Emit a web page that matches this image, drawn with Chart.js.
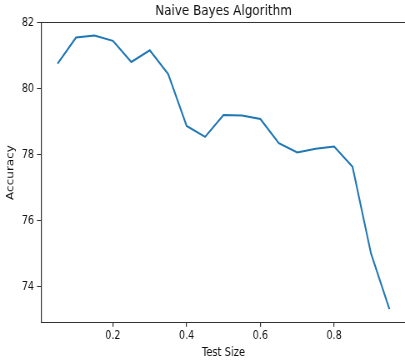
<!DOCTYPE html>
<html>
<head>
<meta charset="utf-8">
<script src="https://cdn.jsdelivr.net/npm/chart.js@4/dist/chart.umd.min.js"></script>
<style>
  html, body { margin: 0; padding: 0; background: #fff; overflow: hidden; width: 405px; height: 363px; }
  #wrap { width: 492px; height: 363px; transform: scaleX(0.8333333); transform-origin: 0 0; }
  canvas { display: block; }
</style>
</head>
<body>
<div id="wrap"><canvas id="c" width="492" height="363"></canvas></div>
<script>
const chartTitle = 'Naive Bayes Algorithm';
const xLabel = 'Test Size';
const yLabel = 'Accuracy';
const testSizes = [0.05, 0.10, 0.15, 0.20, 0.25, 0.30, 0.35, 0.40, 0.45, 0.50,
                   0.55, 0.60, 0.65, 0.70, 0.75, 0.80, 0.85, 0.90, 0.95];
const accuracy = [80.76, 81.55, 81.61, 81.45, 80.81, 81.16, 80.44, 78.87, 78.54, 79.20,
                  79.19, 79.08, 78.35, 78.07, 78.18, 78.25, 77.63, 75.01, 73.32];
const xTicks = [0.2, 0.4, 0.6, 0.8];
const yTicks = [74, 76, 78, 80, 82];
const xRange = [0.005, 0.995];
const yRange = [72.91, 82.01];

// horizontal stretch factor of the original picture (drawn wide, squeezed by CSS)
const K = 1.2;

const points = testSizes.map((x, i) => ({ x: x, y: accuracy[i] }));
const axisColor = '#333';
const textColor = '#111';
const fontFamily = '"DejaVu Sans", sans-serif';

new Chart(document.getElementById('c'), {
  type: 'line',
  data: {
    datasets: [{
      data: points,
      borderColor: '#1f77b4',
      borderWidth: 2,
      pointRadius: 0,
      tension: 0,
      fill: false,
      xAxisID: 'x',
      yAxisID: 'y'
    }]
  },
  options: {
    responsive: false,
    animation: false,
    devicePixelRatio: 1,
    layout: { padding: { left: 0, right: 4.8, top: 0, bottom: 0 } },
    plugins: {
      legend: { display: false },
      tooltip: { enabled: false },
      title: { display: false }
    },
    scales: {
      x: {
        type: 'linear',
        position: 'bottom',
        min: xRange[0],
        max: xRange[1],
        afterBuildTicks(scale) { scale.ticks = xTicks.map(v => ({ value: v })); },
        afterFit(scale) { scale.height = 40.3; },
        grid: { drawOnChartArea: false, tickLength: 4, lineWidth: K, color: axisColor, tickColor: axisColor },
        border: { display: true, color: axisColor, width: 1 },
        ticks: {
          padding: 2,
          color: textColor,
          font: { family: fontFamily, size: 11.5 },
          maxRotation: 0,
          callback: v => v.toFixed(1)
        },
        title: {
          display: true,
          text: xLabel,
          color: textColor,
          font: { family: fontFamily, size: 12 },
          padding: { top: 0, bottom: 2.8 }
        }
      },
      xTop: {
        type: 'linear',
        position: 'top',
        min: xRange[0],
        max: xRange[1],
        afterFit(scale) { scale.height = 22.3; },
        grid: { display: false, drawOnChartArea: false, tickLength: 0 },
        border: { display: true, color: axisColor, width: 1 },
        ticks: { display: false },
        title: {
          display: true,
          text: chartTitle,
          color: textColor,
          font: { family: fontFamily, size: 14.4, lineHeight: 1.2 },
          padding: { top: 2.7, bottom: 0 }
        }
      },
      y: {
        type: 'linear',
        min: yRange[0],
        max: yRange[1],
        afterBuildTicks(scale) { scale.ticks = yTicks.map(v => ({ value: v })); },
        afterFit(scale) { scale.width = 41 * K; },
        grid: { drawOnChartArea: false, tickLength: 4 * K, lineWidth: 1, color: axisColor, tickColor: axisColor },
        border: { display: true, color: axisColor, width: K },
        ticks: {
          padding: 3 * K,
          color: textColor,
          font: { family: fontFamily, size: 11.5 },
          callback: v => String(v)
        },
        title: {
          display: true,
          text: yLabel,
          color: textColor,
          font: { family: fontFamily, size: 12 },
          padding: { top: 5.4, bottom: 0 }
        }
      }
    }
  }
});
</script>
</body>
</html>
